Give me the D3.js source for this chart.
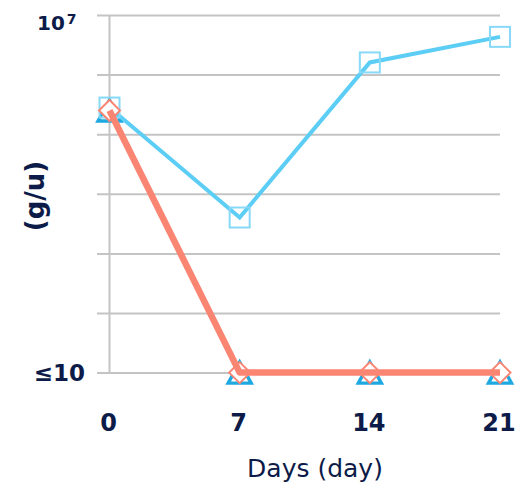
<!DOCTYPE html>
<html>
<head>
<meta charset="utf-8">
<script src="https://cdn.jsdelivr.net/npm/d3@7"></script>
<style>
  html, body { margin: 0; padding: 0; background: #fff; }
  svg { display: block; }
  text { font-family: "DejaVu Sans", sans-serif; fill: #0d1b48; }
</style>
</head>
<body>
<svg id="chart" width="516" height="486"></svg>
<script>
// Sampling days
const days = [0, 7, 14, 21];
// Counts per series (values at the detection limit are plotted at 10)
const squareSeries = [2.8e5, 4.0e3, 1.6e6, 4.3e6];
const diamondSeries = [2.5e5, 10, 10, 10];
const triangleSeries = [2.5e5, 10, 10, 10];
// Axis ticks and labels
const yTicks = [10, 1e2, 1e3, 1e4, 1e5, 1e6, 1e7];
const yTickLabels = ["≤10", "", "", "", "", "", "10|7"];
const xTickLabels = ["0", "7", "14", "21"];
const xTitle = "Days (day)";
const yTitle = "(g/u)";

const svg = d3.select("#chart");
const gridLeft = 97, gridRight = 500;

const x = d3.scaleLinear().domain([0, 21]).range([109.5, 500]);
const y = d3.scaleLog().domain([10, 1e7]).range([372.6, 15]);

// Horizontal gridlines with tick labels
const yAxis = d3.axisLeft(y)
  .tickValues(yTicks)
  .tickSize(-(gridRight - gridLeft))
  .tickPadding(12)
  .tickFormat((d, i) => yTickLabels[i]);

const gy = svg.append("g")
  .attr("transform", `translate(${gridLeft},0)`)
  .call(yAxis);
gy.select(".domain").remove();
gy.selectAll(".tick line").attr("stroke", "#c4c4c4").attr("stroke-width", 2);
gy.selectAll(".tick text")
  .attr("font-size", 23)
  .attr("font-weight", 700)
  .attr("fill", "#0d1b48")
  .attr("dy", "0.35em")
  .each(function (d, i) {
    const lab = yTickLabels[i];
    if (lab.includes("|")) {
      // power-of-ten label with a raised exponent
      const [base, exp] = lab.split("|");
      const t = d3.select(this).text(null)
        .attr("text-anchor", "start")
        .attr("x", 37 - gridLeft)
        .attr("y", 14)
        .attr("dy", 0)
        .attr("font-size", 20);
      t.append("tspan").text(base);
      t.append("tspan").text(exp).attr("font-size", 14).attr("dx", 2).attr("dy", -6);
    }
  });

// Vertical axis line at day 0
svg.append("line")
  .attr("x1", x(0)).attr("x2", x(0))
  .attr("y1", y(1e7)).attr("y2", y(10))
  .attr("stroke", "#c4c4c4").attr("stroke-width", 2);

// X axis labels
const xAxis = d3.axisBottom(x)
  .tickValues(days)
  .tickSize(0)
  .tickPadding(0)
  .tickFormat((d, i) => xTickLabels[i]);
const gx = svg.append("g")
  .attr("transform", `translate(0,${y(10)})`)
  .call(xAxis);
gx.select(".domain").remove();
gx.selectAll(".tick text")
  .attr("font-size", 24)
  .attr("font-weight", 700)
  .attr("fill", "#0d1b48")
  .attr("x", -1.5)
  .attr("y", 58)
  .attr("dy", "0");

// Axis titles
svg.append("text")
  .attr("x", 315).attr("y", 477)
  .attr("text-anchor", "middle")
  .attr("font-size", 25)
  .attr("font-weight", 400)
  .text(xTitle);

svg.append("text")
  .attr("transform", "translate(35,196) rotate(-90)")
  .attr("text-anchor", "middle")
  .attr("dy", "0.35em")
  .attr("font-size", 26)
  .attr("font-weight", 700)
  .text(yTitle);

const pts = (vals) => days.map((d, i) => [x(d), y(vals[i])]);
const line = d3.line();

// Triangle markers (their own line sits under the salmon line)
const triPts = pts(triangleSeries);
svg.append("path")
  .attr("d", line(triPts))
  .attr("fill", "none")
  .attr("stroke", "#1fa9e1")
  .attr("stroke-width", 3);
const tw = 11.5, th = 10.5;
svg.append("g").selectAll("path")
  .data(triPts)
  .join("path")
  .attr("d", ([cx, cy]) => `M${cx},${cy - th}L${cx + tw},${cy + th}L${cx - tw},${cy + th}Z`)
  .attr("fill", "none")
  .attr("stroke", "#1fa9e1")
  .attr("stroke-width", 3.4)
  .attr("stroke-linejoin", "miter");

// Light blue series with square markers
const sqPts = pts(squareSeries);
svg.append("path")
  .attr("d", line(sqPts))
  .attr("fill", "none")
  .attr("stroke", "#5ccdf5")
  .attr("stroke-width", 4);
const sq = 20;
svg.append("g").selectAll("rect")
  .data(sqPts)
  .join("rect")
  .attr("x", d => d[0] - sq / 2)
  .attr("y", d => d[1] - sq / 2)
  .attr("width", sq).attr("height", sq)
  .attr("fill", "none")
  .attr("stroke", "#87d9f7")
  .attr("stroke-width", 2);

// Salmon series with diamond markers
const diaPts = pts(diamondSeries);
const dr = 10.5;
svg.append("g").selectAll("path")
  .data(diaPts)
  .join("path")
  .attr("d", ([cx, cy]) => `M${cx},${cy - dr}L${cx + dr},${cy}L${cx},${cy + dr}L${cx - dr},${cy}Z`)
  .attr("fill", "#fff")
  .attr("stroke", "#fb8573")
  .attr("stroke-width", 2);
svg.append("path")
  .attr("d", line(diaPts))
  .attr("fill", "none")
  .attr("stroke", "#fb8573")
  .attr("stroke-width", 6.5)
  .attr("stroke-linejoin", "round");
</script>
</body>
</html>
